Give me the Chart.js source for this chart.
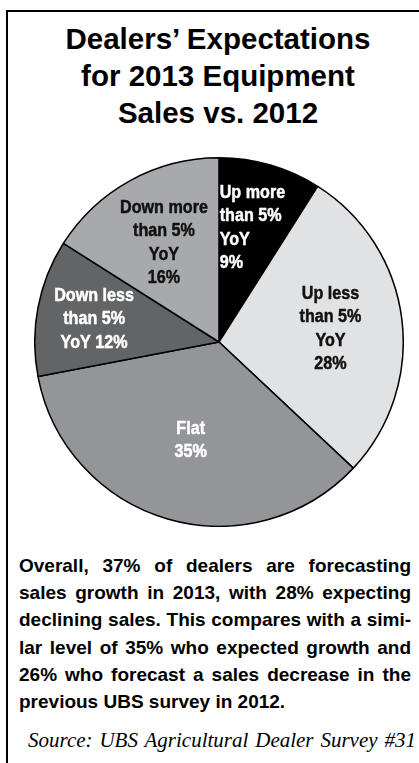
<!DOCTYPE html>
<html>
<head>
<meta charset="utf-8">
<script src="https://cdn.jsdelivr.net/npm/chart.js@4"></script>
<style>
  html, body { margin: 0; padding: 0; background: #fff; }
  body { width: 419px; height: 763px; position: relative; overflow: hidden; }
  .frame { position: absolute; left: 6px; top: 10px; width: 440px; height: 780px;
           border-top: 2px solid #000; border-left: 2px solid #000; }
  .title { position: absolute; left: 18px; width: 400px; top: 20px; text-align: center;
           font: bold 29.5px "Liberation Sans", Arial, sans-serif; line-height: 37px; color: #000; }
  #pie { position: absolute; left: 34px; top: 157px; }
  .note { position: absolute; left: 19px; top: 552px; width: 392px;
          font: bold 19px "Liberation Sans", Arial, sans-serif; line-height: 27.2px; color: #000; }
  .note div { white-space: nowrap; text-align: justify; text-align-last: justify; }
  .note div.last { text-align-last: left; }
  .source { position: absolute; left: 28px; top: 727px; width: 388px;
            font: italic 21px "Liberation Serif", "Times New Roman", serif; line-height: 26px;
            white-space: nowrap; text-align: justify; text-align-last: justify; color: #000; }
</style>
</head>
<body>
<div class="frame"></div>
<div class="title">Dealers’ Expectations<br>for 2013 Equipment<br>Sales vs. 2012</div>
<canvas id="pie" width="370" height="370"></canvas>
<div class="note">
  <div>Overall, 37% of dealers are forecasting</div>
  <div>sales growth in 2013, with 28% expecting</div>
  <div>declining sales. This compares with a simi-</div>
  <div>lar level of 35% who expected growth and</div>
  <div>26% who forecast a sales decrease in the</div>
  <div class="last">previous UBS survey in 2012.</div>
</div>
<div class="source">Source: UBS Agricultural Dealer Survey #31</div>
<script>
// Survey answers, clockwise from 12 o'clock
const categories = ['Up more than 5% YoY', 'Up less than 5% YoY', 'Flat', 'Down less than 5% YoY', 'Down more than 5% YoY'];
const shares = [9, 28, 35, 12, 16];
// Text printed inside each slice; {v} is replaced by the slice's share
const sliceText = [
  ['Up more', 'than 5%', 'YoY', '{v}%'],
  ['Up less', 'than 5%', 'YoY', '{v}%'],
  ['Flat', '{v}%'],
  ['Down less', 'than 5%', 'YoY {v}%'],
  ['Down more', 'than 5%', 'YoY', '{v}%']
];

// Styling
const sliceColors = ['#000000', '#e1e2e4', '#939598', '#636466', '#a8a9ac'];
const textColors = ['#ffffff', '#111111', '#ffffff', '#ffffff', '#111111'];
const labelRadius = [0.65, 0.61, 0.55, 0.69, 0.62];
const labelAlign = ['left', 'center', 'center', 'center', 'center'];

const sliceLabels = {
  id: 'sliceLabels',
  afterDatasetsDraw(chart) {
    const ctx = chart.ctx;
    const arcs = chart.getDatasetMeta(0).data;
    const values = chart.data.datasets[0].data;
    const lineH = 23.5;
    const squeeze = 0.85;
    ctx.save();
    ctx.font = 'bold 19px "Liberation Sans", Arial, sans-serif';
    ctx.textBaseline = 'middle';
    ctx.lineJoin = 'round';
    ctx.lineWidth = 0.5;
    arcs.forEach((arc, i) => {
      const p = arc.getProps(['x', 'y', 'startAngle', 'endAngle', 'outerRadius'], true);
      const mid = (p.startAngle + p.endAngle) / 2;
      const r = p.outerRadius * labelRadius[i];
      const cx = p.x + Math.cos(mid) * r;
      const cy = p.y + Math.sin(mid) * r;
      const lines = sliceText[i].map(s => s.replace('{v}', values[i]));
      const blockW = Math.max(...lines.map(l => ctx.measureText(l).width)) * squeeze;
      const left = labelAlign[i] === 'left';
      ctx.textAlign = left ? 'left' : 'center';
      ctx.fillStyle = textColors[i];
      ctx.strokeStyle = textColors[i];
      lines.forEach((line, k) => {
        const y = cy + (k - (lines.length - 1) / 2) * lineH + 1;
        ctx.save();
        ctx.translate(left ? cx - blockW / 2 : cx, y);
        ctx.scale(squeeze, 1);
        ctx.fillText(line, 0, 0);
        ctx.strokeText(line, 0, 0);
        ctx.restore();
      });
    });
    ctx.restore();
  }
};

new Chart(document.getElementById('pie'), {
  type: 'pie',
  data: {
    labels: categories,
    datasets: [{
      data: shares,
      backgroundColor: sliceColors,
      borderColor: '#000000',
      borderWidth: 1.5
    }]
  },
  options: {
    responsive: false,
    animation: false,
    events: [],
    layout: { padding: 0 },
    plugins: { legend: { display: false }, tooltip: { enabled: false } }
  },
  plugins: [sliceLabels]
});
</script>
</body>
</html>
